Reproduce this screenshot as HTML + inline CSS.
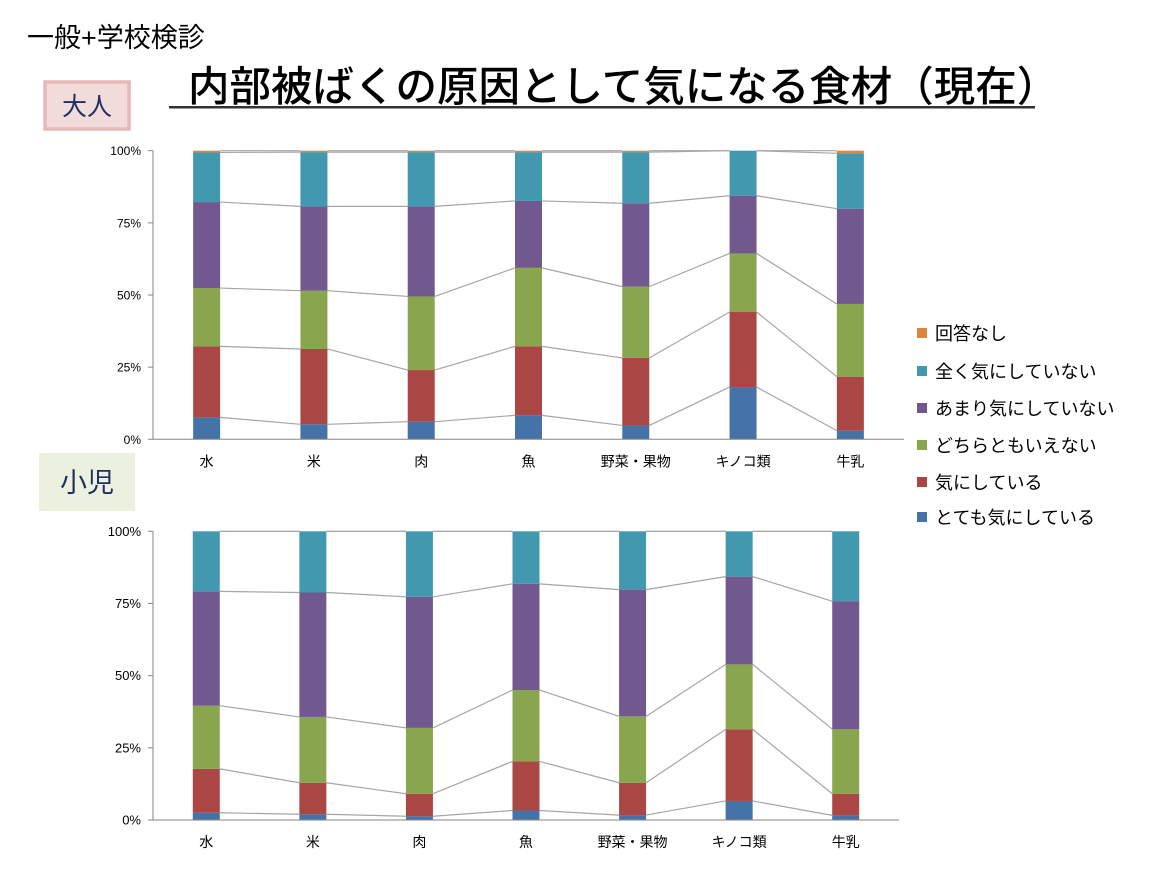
<!DOCTYPE html>
<html><head><meta charset="utf-8">
<style>
body{margin:0;width:1163px;height:872px;background:#fff;overflow:hidden;font-family:"Liberation Sans","Noto Sans CJK JP",sans-serif;}
svg{position:absolute;left:0;top:0}
</style></head>
<body>
<svg id="c" width="1163" height="872" xmlns="http://www.w3.org/2000/svg" font-family="Liberation Sans, Noto Sans CJK JP, sans-serif">
<text x="27" y="47" font-size="27" fill="#000">一般+学校検診</text>
<text x="188" y="101" font-size="41.5" fill="#000" font-weight="500">内部被ばくの原因として気になる食材（現在）</text>
<rect x="169" y="106" width="866" height="2.5" fill="#333"/>
<rect x="45" y="82" width="84" height="47" fill="#f2dcdb" stroke="#e6b9b8" stroke-width="3.5"/>
<text x="87" y="115" font-size="25" fill="#1f2f5f" text-anchor="middle">大人</text>
<rect x="39" y="453" width="96" height="58" fill="#ebf1de"/>
<text x="87" y="492" font-size="27" fill="#1f2f5f" text-anchor="middle">小児</text>
<g id="g1"></g><g id="g2"></g><g id="lg"></g>
</svg>
<script>
const categories=["水","米","肉","魚","野菜・果物","キノコ類","牛乳"];
const seriesNames=["とても気にしている","気にしている","どちらともいえない","あまり気にしていない","全く気にしていない","回答なし"];
const colors=["#4572a7","#aa4643","#89a54e","#71588f","#4198af","#db843d"];
const tickLabels=["0%","25%","50%","75%","100%"];
const tickValues=[0,25,50,75,100];
// adult values (%)
const adultVery=[7.6,5.2,6.1,8.3,4.8,18.1,3.0];
const adultSome=[24.6,26.1,17.9,23.9,23.4,26.0,18.7];
const adultNeutral=[20.2,20.2,25.5,27.2,24.7,20.3,25.2];
const adultLittle=[29.8,29.2,31.2,23.2,28.9,20.0,33.0];
const adultNone=[17.2,18.8,18.8,16.9,17.7,15.6,19.2];
const adultNA=[0.6,0.5,0.5,0.5,0.5,0.0,0.9];
// child values (%)
const childVery=[2.5,2.0,1.3,3.3,1.7,6.6,1.6];
const childSome=[15.2,10.9,7.8,17.0,11.2,24.8,7.5];
const childNeutral=[21.9,22.8,22.8,24.7,23.0,22.5,22.4];
const childLittle=[39.6,43.1,45.4,36.8,43.9,30.4,44.3];
const childNone=[20.8,21.2,22.7,18.2,20.2,15.7,24.2];
const childNA=[0,0,0,0,0,0,0];
const NS="http://www.w3.org/2000/svg";
function mk(tag,attrs,parent){const e=document.createElementNS(NS,tag);for(const k in attrs)e.setAttribute(k,attrs[k]);parent.appendChild(e);return e;}
function draw(g,series,x0,x1,yTop,yBot,tickFont){
  const n=categories.length,cw=(x1-x0)/n,bw=27;
  const xC=i=>x0+cw*(i+0.5);
  const yS=v=>yBot-(yBot-yTop)*v/100;
  tickValues.forEach((t,k)=>{
    const tk=mk('line',{x1:x0-5,x2:x0,y1:yS(t),y2:yS(t),stroke:'#868686'},g);
    
    
    const tl=mk('text',{x:x0-12,y:yS(t)+4.5,'font-size':tickFont,'text-anchor':'end',fill:'#000'},g);
    tl.textContent=tickLabels[k];
    
    
  });
  const ax=mk('line',{x1:x0,x2:x0,y1:yTop,y2:yBot,stroke:'#868686'},g);
  
  
  const cum=categories.map(()=>[0]);
  categories.forEach((c,i)=>{let s=0;series.forEach(a=>{s+=a[i];cum[i].push(s);});});
  for(let s=1;s<=series.length;s++){
    for(let i=0;i<n-1;i++){
      const ln=mk('line',{x1:xC(i)+bw/2,y1:yS(cum[i][s]),x2:xC(i+1)-bw/2,y2:yS(cum[i+1][s]),stroke:'#a6a6a6','stroke-width':1.2},g);
      
      
    }
  }
  categories.forEach((c,i)=>{
    series.forEach((a,s)=>{
      if(a[i]<=0)return;
      const r=mk('rect',{x:xC(i)-bw/2,y:yS(cum[i][s+1]),width:bw,height:yS(cum[i][s])-yS(cum[i][s+1]),fill:colors[s]},g);
      
      
    });
    const t=mk('text',{x:xC(i),y:yBot+27,'font-size':14,'text-anchor':'middle',fill:'#000'},g);
    t.textContent=c;
    
    
  });
  const bx=mk('line',{x1:x0,x2:x1,y1:yBot,y2:yBot,stroke:'#868686'},g);
  
  
}
draw(document.getElementById('g1'),[adultVery,adultSome,adultNeutral,adultLittle,adultNone,adultNA],153,904,150.7,439.3,12);
draw(document.getElementById('g2'),[childVery,childSome,childNeutral,childLittle,childNone,childNA],153,899,531.3,820,13);
const lg=document.getElementById('lg');
const rowsY=[333,371,408,445,482,517];
for(let k=0;k<6;k++){
  const s=5-k;
  const sq=mk('rect',{x:917,y:rowsY[k]-5,width:10,height:10,fill:colors[s]},lg);
  
  
  const t=mk('text',{x:935,y:rowsY[k]+7,'font-size':18,fill:'#000'},lg);
  t.textContent=seriesNames[s];
  
  
}
</script>
</body></html>
